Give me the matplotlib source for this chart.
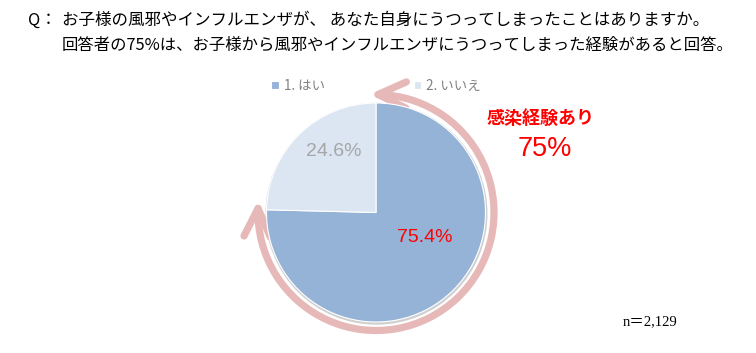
import numpy as np
import matplotlib
matplotlib.use('Agg')
import matplotlib.pyplot as plt
from matplotlib.patches import Arc, Circle

# data
labels = ['1. はい', '2. いいえ']
values = [75.4, 24.6]
colors = ['#95B3D7', '#DCE6F2']
n_total = '2,129'
headline = '感染経験あり'
headline_pct = '75%'
title1 = 'お子様の風邪やインフルエンザが、 あなた自身にうつってしまったことはありますか。'
title2 = '回答者の75%は、お子様から風邪やインフルエンザにうつってしまった経験があると回答。'

jp = ['Noto Sans CJK JP', 'DejaVu Sans']
H = 353

fig = plt.figure(figsize=(7.56, 3.53), dpi=100)
ax = fig.add_axes([0, 0, 1, 1])
ax.set_xlim(0, 756)
ax.set_ylim(0, H)
ax.axis('off')

cx, cy, r = 376, H - 212.5, 109.5

# soft shadow under the pie
ax.add_patch(Circle((cx + 0.5, cy - 1.2), r + 0.8, color='#D0D0D0', zorder=1))
wedges, _ = ax.pie(values, colors=colors, startangle=90, counterclock=False,
                   center=(cx, cy), radius=r,
                   wedgeprops=dict(edgecolor='white', linewidth=0.8))
for w in wedges:
    w.set_zorder(2)
ax.set_xlim(0, 756)
ax.set_ylim(0, H)
ax.set_aspect('equal')

# percent labels
ax.text(425, H - 237, f'{values[0]}%', color='#FF0000', fontsize=14,
        family='Liberation Sans', ha='center', va='center', zorder=3)
ax.text(334, H - 152, f'{values[1]}%', color='#A6A6A6', fontsize=14,
        family='Liberation Sans', ha='center', va='center', zorder=3)

# circular double arrow
arc_col = '#E6B9B8'
R = 118
t1, t2 = 178, 449
ax.add_patch(Arc((cx, cy), 2 * R, 2 * R, theta1=t1, theta2=t2,
                 color=arc_col, lw=5.2, capstyle='round', zorder=1))

def chevron(theta, sign):
    a = np.deg2rad(theta)
    tip = np.array([cx + R * np.cos(a), cy + R * np.sin(a)])
    # direction pointing back along the arc
    back = sign * np.array([-np.sin(a), np.cos(a)])
    L, spread = 31, np.deg2rad(25)
    pts = []
    for s in (1, -1):
        c, sn = np.cos(s * spread), np.sin(s * spread)
        d = np.array([c * back[0] - sn * back[1], sn * back[0] + c * back[1]])
        pts.append(tip + L * d)
    xs = [pts[0][0], tip[0], pts[1][0]]
    ys = [pts[0][1], tip[1], pts[1][1]]
    ax.plot(xs, ys, color=arc_col, lw=5.2, solid_capstyle='round',
            solid_joinstyle='round', zorder=1)

chevron(t2 % 360, -1)   # top, points left
chevron(t1, 1)          # left, points up

# legend
fig.legend(wedges, labels, loc='center', bbox_to_anchor=(376 / 756, 1 - 86 / H),
           ncol=2, frameon=False, prop={'family': jp, 'size': 9.7},
           labelcolor='#808080', handlelength=0.55, handleheight=0.55,
           handletextpad=0.35, columnspacing=6.6)

# headline
ax.text(541, H - 118, headline, color='#FF0000', fontsize=13, fontweight='bold',
        family=jp, ha='center', va='center')
ax.text(545, H - 149, headline_pct, color='#FF0000', fontsize=19.5,
        family='Liberation Sans', ha='center', va='center')

# title
ax.text(28, H - 20, 'Q：', fontsize=11.9, family=jp, ha='left', va='center')
ax.text(62, H - 20, title1, fontsize=11.9, family=jp, ha='left', va='center')
ax.text(62, H - 45, title2, fontsize=11.8, family=jp, ha='left', va='center')

ax.text(623, H - 322, 'n＝' + n_total, fontsize=10.5,
        family=['Liberation Serif', 'Noto Sans CJK JP'], ha='left', va='center')

fig.savefig('out.png', dpi=100)
